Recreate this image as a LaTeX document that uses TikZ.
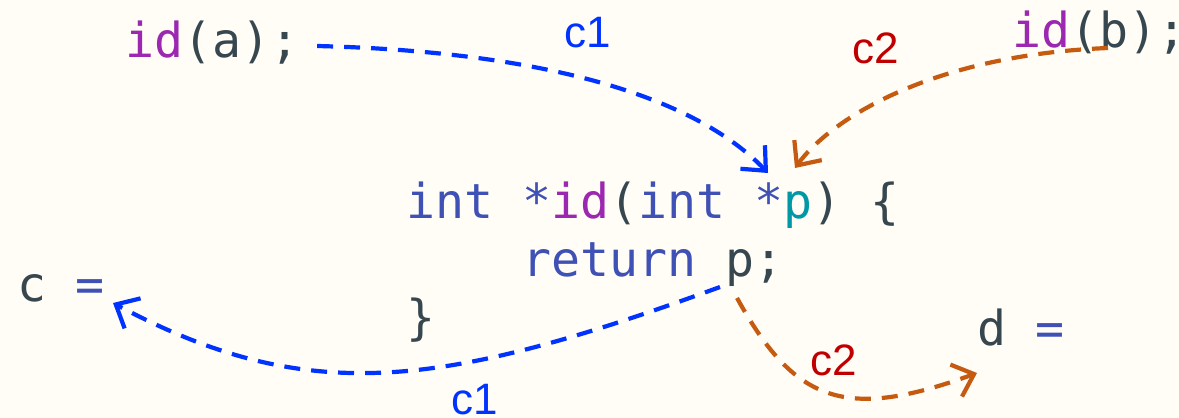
\documentclass[tikz,border=0pt]{standalone}
\usepackage{fontspec}
\setmainfont{Liberation Sans}
\setmonofont{DejaVu Sans Mono}
\usetikzlibrary{arrows.meta,calc}
\definecolor{bgc}{HTML}{FFFDF6}
\definecolor{kwc}{HTML}{3F51B5}
\definecolor{fnc}{HTML}{9C27B0}
\definecolor{plc}{HTML}{37474F}
\definecolor{parc}{HTML}{0097A7}
\definecolor{bluec}{HTML}{0033FF}
\definecolor{orangec}{HTML}{C55A11}
\definecolor{redc}{HTML}{C00000}
\begin{document}
\begin{tikzpicture}[x=1pt,y=-1pt,
  codetxt/.style={font=\fontsize{48.2}{58}\selectfont\ttfamily, inner sep=0pt, outer sep=0pt, anchor=base west},
  tkw/.style={codetxt,text=kwc},
  tfn/.style={codetxt,text=fnc},
  tpl/.style={codetxt,text=plc},
  tpar/.style={codetxt,text=parc},
  lab/.style={font=\fontsize{44}{50}\selectfont, inner sep=0pt, anchor=base},
  flow/.style={line width=4.2pt, dash pattern=on 16pt off 11pt,
    -{Straight Barb[length=19pt,width=34pt,line width=4.2pt]}}
]
\useasboundingbox (0,0) rectangle (1179,418);
\fill[bgc] (0,0) rectangle (1179,418);

% call sites
\node[tfn] (ida1) at (125.5,57) {id};
\node[tpl] (ida2) at (183.5,57) {(a);};
\node[tfn] (idb1) at (1012.5,47) {id};
\node[tpl] (idb2) at (1070.5,47) {(b);};

% function body
\node[tkw] (l1a) at (406.5,218) {int *};
\node[tfn] (l1b) at ({406.5+5*29},218) {id};
\node[tpl] (l1c) at ({406.5+7*29},218) {(};
\node[tkw] (l1d) at ({406.5+8*29},218) {int *};
\node[tpar] (pp) at ({406.5+13*29},218) {p};
\node[tpl] (l1e) at ({406.5+14*29},218) {)};
\node[tpl] (l1f) at ({406.5+16*29},218) {\{};
\node[tkw] (ret) at ({406.5+4*29},276.5) {return};
\node[tpl] (pr) at ({406.5+11*29},276.5) {p};
\node[tpl] (semi) at ({406.5+12*29},276.5) {;};
\node[tpl] (close) at (406.5,334) {\}};

% results
\node[tpl] (cv) at (17,301) {c};
\node[tkw] (ceq) at (75,301) {=};
\node[tpl] (dv) at (977.5,345) {d};
\node[tkw] (deq) at (1035.5,345) {=};

% labels
\node[lab,text=bluec] (c1top) at (587.5,47) {c1};
\node[lab,text=redc] (c2top) at (876,63) {c2};
\node[lab,text=bluec] (c1bot) at (475,414) {c1};
\node[lab,text=redc] (c2bot) at (834,375) {c2};

% flows
\draw[flow,bluec] ($(ida2.base east)+(17.5,-11)$) .. controls (560,52) and (700,102) .. ($(pp.base)+(-30,-45)$);
\draw[flow,orangec] ($(idb2.base west)+(37.5,1)$) .. controls (930,55) and (830,120) .. ($(pp.base)+(-3,-50)$);
\draw[flow,bluec] ($(pr.base)+(-20,10.5)$) .. controls (438,390) and (307,406) .. ($(ceq.base east)+(9,2)$);
\draw[flow,orangec] ($(pr.base)+(-3,21.5)$) .. controls (795,403) and (845,421) .. ($(dv.base west)+(-0.5,28)$);
\end{tikzpicture}
\end{document}
